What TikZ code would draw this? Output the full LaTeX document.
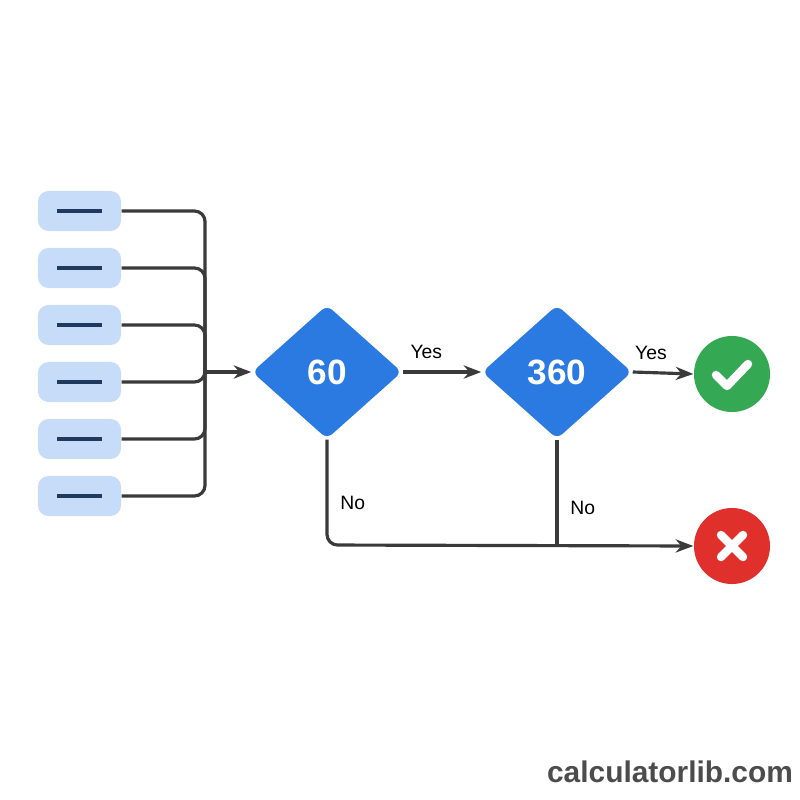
\documentclass[tikz,border=0pt]{standalone}
\usepackage{fontspec}
\setmainfont{Liberation Sans}
\usetikzlibrary{shapes.geometric,arrows.meta}
\definecolor{boxblue}{HTML}{C6DCF8}
\definecolor{dashnavy}{HTML}{1E3A5F}
\definecolor{diablue}{HTML}{2A7AE2}
\definecolor{okgreen}{HTML}{34A853}
\definecolor{badred}{HTML}{E0302B}
\definecolor{wire}{HTML}{3A3A3A}
\tikzset{
  inbox/.style={rectangle, rounded corners=3pt, fill=boxblue, minimum width=0.83cm, minimum height=0.4cm},
  test/.style={diamond, fill=diablue, text=white, font=\bfseries\fontsize{10}{12}\selectfont, minimum width=1.5cm, minimum height=1.34cm, inner sep=0pt, rounded corners=2pt},
  result/.style={circle, minimum size=0.76cm, inner sep=0pt},
  wireline/.style={draw=wire, line width=0.9pt, rounded corners=3pt},
  lbl/.style={font=\fontsize{5.5}{6}\selectfont, text=black}
}
\begin{document}
\begin{tikzpicture}[x=0.01cm, y=-0.01cm]
    \useasboundingbox (0,0) rectangle (800,800);
    \foreach \i/\y in {1/211,2/268,3/325,4/382,5/439,6/496} {
        \node[inbox] (in\i) at (79.5,\y) {};
        \draw[dashnavy, line width=1.2pt] (57,\y) -- (102,\y);
        \draw[wireline] (in\i.east) -| (205,372);
    }
    \coordinate (bus) at (205,372);
    \node[test] (d1) at (327,372) {60};
    \node[test] (d2) at (557,372) {360};
    \node[result, fill=okgreen] (ok) at (732,374) {};
    \node[result, fill=badred] (bad) at (732,546) {};
    \draw[white, line width=2.4pt, line cap=round, line join=round] (716,375) -- (727,386) -- (748,364);
    \draw[white, line width=2.4pt, line cap=round] (721,535) -- (743,557) (743,535) -- (721,557);
    \draw[wireline, -{Stealth[length=5pt]}] (bus) -- (d1.west);
    \draw[wireline, -{Stealth[length=5pt]}] (d1.east) -- node[lbl, above, pos=0.3] {Yes} (d2.west);
    \draw[wireline, -{Stealth[length=5pt]}] (d2.east) -- node[lbl, above, pos=0.3] {Yes} (ok.west);
    \draw[wireline, -{Stealth[length=5pt]}] (d1.south) -- node[lbl, right, pos=0.6] {No} (327,545) -- (bad.west);
    \draw[wireline] (d2.south) -- node[lbl, right, pos=0.65] {No} (557,545);
    \node[font=\bfseries\fontsize{8.5}{10}\selectfont, text=black!70] (site) at (670,772) {calculatorlib.com};
\end{tikzpicture}
\end{document}
